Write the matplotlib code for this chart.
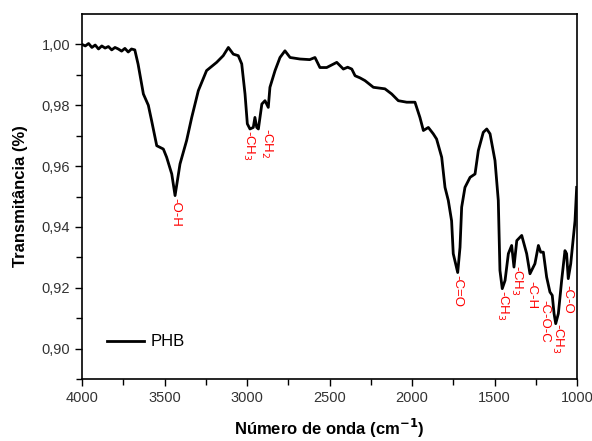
import numpy as np
import matplotlib.pyplot as plt

plt.rcParams['font.family'] = ['Liberation Sans', 'DejaVu Sans']

# FTIR spectrum of PHB
wavenumber = [4000, 3980, 3960, 3940, 3920, 3900, 3880, 3860, 3840, 3820,
              3800, 3780, 3760, 3740, 3720, 3700, 3680, 3660, 3628, 3598,
              3578, 3547, 3507, 3487, 3456, 3436, 3406, 3366, 3335, 3295,
              3245, 3184, 3144, 3113, 3083, 3053, 3032, 3012, 2998, 2982,
              2962, 2952, 2941, 2931, 2910, 2891, 2871, 2861, 2830, 2800,
              2770, 2739, 2679, 2620, 2588, 2558, 2517, 2456, 2416, 2390,
              2365, 2345, 2315, 2285, 2234, 2164, 2123, 2083, 2032, 1982,
              1952, 1931, 1901, 1871, 1851, 1820, 1800, 1780, 1760, 1750,
              1723, 1709, 1699, 1679, 1648, 1618, 1598, 1568, 1547, 1527,
              1497, 1477, 1467, 1453, 1436, 1416, 1396, 1382, 1365, 1335,
              1305, 1285, 1255, 1234, 1220, 1204, 1184, 1164, 1150, 1139,
              1129, 1113, 1093, 1073, 1063, 1053, 1038, 1022, 1012, 1002]
transmittance = [1.0000, 0.9995, 1.0003, 0.9990, 0.9998, 0.9985, 0.9995, 0.9988, 0.9993, 0.9982,
                 0.9990, 0.9985, 0.9978, 0.9987, 0.9975, 0.9985, 0.9982, 0.9935, 0.9837, 0.9800,
                 0.9749, 0.9667, 0.9656, 0.9629, 0.9574, 0.9503, 0.9607, 0.9684, 0.9760, 0.9848,
                 0.9914, 0.9941, 0.9963, 0.9990, 0.9968, 0.9963, 0.9936, 0.9837, 0.9739, 0.9722,
                 0.9727, 0.9760, 0.9727, 0.9722, 0.9804, 0.9815, 0.9793, 0.9859, 0.9914, 0.9957,
                 0.9979, 0.9957, 0.9952, 0.9950, 0.9957, 0.9924, 0.9924, 0.9941, 0.9919, 0.9925,
                 0.9919, 0.9897, 0.9890, 0.9881, 0.9859, 0.9854, 0.9837, 0.9815, 0.9810, 0.9810,
                 0.9760, 0.9717, 0.9727, 0.9706, 0.9689, 0.9629, 0.9530, 0.9487, 0.9420, 0.9312,
                 0.9250, 0.9333, 0.9465, 0.9530, 0.9563, 0.9574, 0.9651, 0.9711, 0.9722, 0.9706,
                 0.9618, 0.9487, 0.9257, 0.9197, 0.9224, 0.9312, 0.9339, 0.9268, 0.9355, 0.9372,
                 0.9312, 0.9246, 0.9279, 0.9339, 0.9317, 0.9317, 0.9235, 0.9186, 0.9175, 0.9115,
                 0.9082, 0.9115, 0.9224, 0.9322, 0.9312, 0.9230, 0.9279, 0.9366, 0.9420, 0.9530]

# band labels: text, wavenumber, top of text (transmittance)
band_text = ['-O-H', '-CH$_3$', '-CH$_2$', '-C=O', '-CH$_3$', '-CH$_3$', '-C-H', '-C-O-C', '-CH$_3$', '-C-O']
band_pos = [3436, 2990, 2880, 1723, 1450, 1368, 1275, 1196, 1118, 1058]
band_top = [0.9495, 0.9718, 0.9724, 0.9243, 0.9192, 0.9275, 0.9222, 0.9160, 0.9085, 0.9210]

fig = plt.figure(figsize=(5.92, 4.41), dpi=100)
ax = fig.add_axes([82/592, 1 - 379/441, (577-82)/592, (379-14)/441])

ax.plot(wavenumber, transmittance, color='black', lw=2, label='PHB')

for txt, x, y in zip(band_text, band_pos, band_top):
    ax.text(x, y, txt, color='red', fontsize=9.5, rotation=270,
            ha='center', va='top')

ax.set_xlim(4000, 1000)
ax.set_ylim(0.89, 1.01)
ax.set_xticks([4000, 3500, 3000, 2500, 2000, 1500, 1000])
ax.set_xticks(np.arange(3750, 1000, -500), minor=True)
ax.set_yticks([0.90, 0.92, 0.94, 0.96, 0.98, 1.00])
ax.set_yticks([0.89, 0.91, 0.93, 0.95, 0.97, 0.99], minor=True)
ax.set_yticklabels(['0,90', '0,92', '0,94', '0,96', '0,98', '1,00'])
ax.tick_params(which='major', direction='out', length=5, width=1, labelsize=10.5,
               colors='black', labelcolor='#333333')
ax.tick_params(which='minor', direction='out', length=4, width=1)
for s in ax.spines.values():
    s.set_linewidth(1.2)

ax.set_xlabel('Número de onda (cm$^{\\mathbf{-1}}$)', fontsize=12, fontweight='bold', labelpad=9)
ax.set_ylabel('Transmitância (%)', fontsize=12, fontweight='bold', labelpad=10)

ax.legend(loc='lower left', bbox_to_anchor=(0.02, 0.04), frameon=False, fontsize=12,
          handlelength=2.2, handletextpad=0.4)

fig.savefig('out.png', dpi=100)
